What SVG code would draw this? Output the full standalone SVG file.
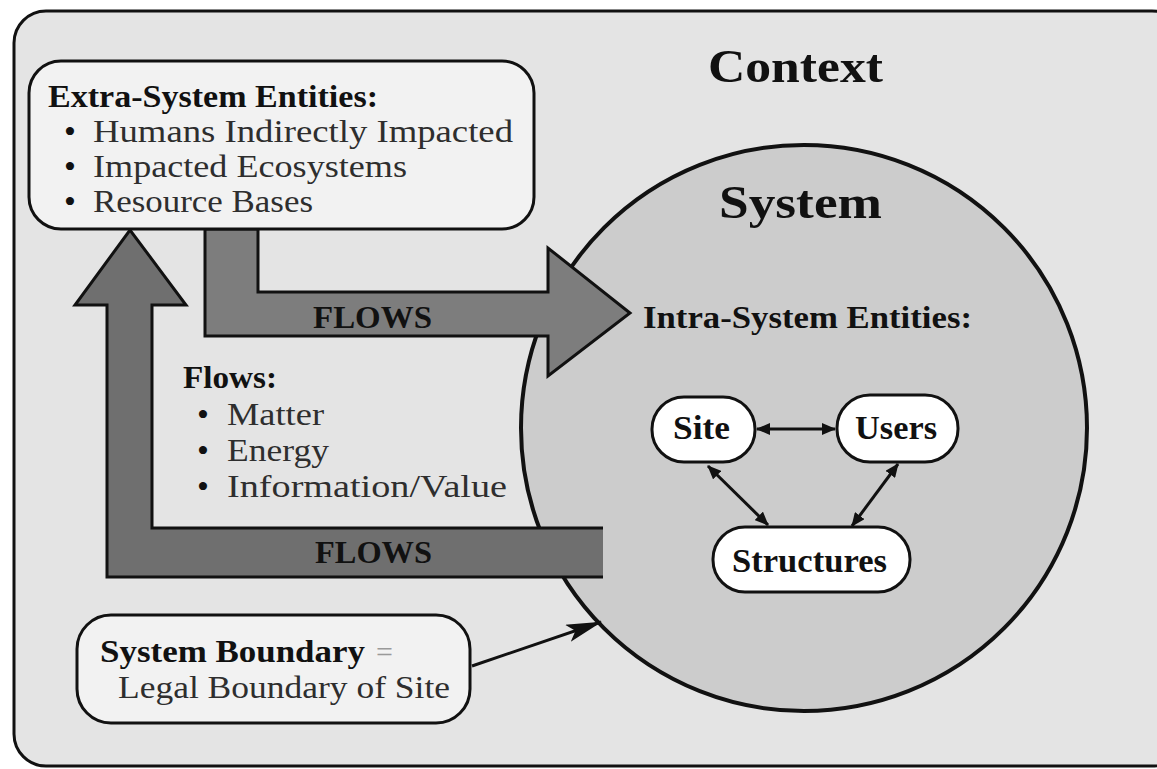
<svg xmlns="http://www.w3.org/2000/svg" width="1157" height="769" viewBox="0 0 1157 769">
<style>
  text { font-family: "Liberation Serif", "Times New Roman", serif; }
  .b { font-weight: bold; fill: #111; }
  .r { fill: #2e2e2e; }
  .dot { fill: #111; }
  .box { fill: #f2f2f2; stroke: #111; stroke-width: 3; }
  .pill { fill: #ffffff; stroke: #111; stroke-width: 3; }
  .edge { stroke: #111; stroke-width: 3; fill: none; }
</style>
<defs>
  <marker id="ah" viewBox="0 0 14 12" refX="13" refY="6" markerWidth="14" markerHeight="12" markerUnits="userSpaceOnUse" orient="auto-start-reverse">
    <path d="M0,0 L14,6 L0,12 z" fill="#111"/>
  </marker>
  <marker id="big" viewBox="0 0 36 18" refX="35" refY="9" markerWidth="36" markerHeight="18" markerUnits="userSpaceOnUse" orient="auto">
    <path d="M0,0 L36,9 L0,18 L8,9 z" fill="#111"/>
  </marker>
</defs>

<g id="context">
  <rect x="14" y="11" width="1170" height="755" rx="32" ry="32" fill="#e4e4e4" stroke="#111" stroke-width="3"/>
  <text class="b" x="708" y="82" font-size="46" textLength="175" lengthAdjust="spacingAndGlyphs">Context</text>
</g>

<g id="system">
  <circle cx="804" cy="428" r="283" fill="#cccccc" stroke="#111" stroke-width="4"/>
  <text class="b" x="719" y="218" font-size="47" textLength="163" lengthAdjust="spacingAndGlyphs">System</text>
  <text class="b" x="643" y="328" font-size="31" textLength="329" lengthAdjust="spacingAndGlyphs">Intra-System Entities:</text>
</g>

<g id="connectors">
  <g id="flow-in">
    <path d="M205,229 L258,229 L258,292 L548,292 L548,248 L630,313 L548,376 L548,336 L205,336 Z" fill="#7d7d7d" stroke="#111" stroke-width="3" stroke-linejoin="miter"/>
    <text class="b" x="313" y="328" font-size="32" textLength="119" lengthAdjust="spacingAndGlyphs">FLOWS</text>
  </g>
  <g id="flow-out">
    <path d="M603,528 L152,528 L152,305 L186,305 L130,230 L75,305 L107,305 L107,577 L603,577 Z" fill="#6f6f6f"/>
    <path d="M603,528 L152,528 L152,305 L186,305 L130,230 L75,305 L107,305 L107,577 L603,577" fill="none" stroke="#111" stroke-width="3" stroke-linejoin="miter"/>
    <text class="b" x="315" y="563" font-size="32" textLength="117" lengthAdjust="spacingAndGlyphs">FLOWS</text>
  </g>
  <line class="edge" x1="757" y1="429" x2="835" y2="429" marker-start="url(#ah)" marker-end="url(#ah)"/>
  <line class="edge" x1="708" y1="466" x2="768" y2="525" marker-start="url(#ah)" marker-end="url(#ah)"/>
  <line class="edge" x1="898" y1="464" x2="852" y2="526" marker-start="url(#ah)" marker-end="url(#ah)"/>
  <line class="edge" x1="472" y1="666" x2="601" y2="622" marker-end="url(#big)"/>
</g>

<g id="extra-system">
  <rect class="box" x="29" y="61" width="505" height="168" rx="32" ry="32"/>
  <text class="b" x="48" y="107" font-size="31" textLength="330" lengthAdjust="spacingAndGlyphs">Extra-System Entities:</text>
  <text class="dot" x="64" y="143" font-size="34">•</text>
  <text class="r" x="93" y="142" font-size="32" textLength="420" lengthAdjust="spacingAndGlyphs">Humans Indirectly Impacted</text>
  <text class="dot" x="64" y="178" font-size="34">•</text>
  <text class="r" x="93" y="177" font-size="32" textLength="314" lengthAdjust="spacingAndGlyphs">Impacted Ecosystems</text>
  <text class="dot" x="64" y="213" font-size="34">•</text>
  <text class="r" x="93" y="212" font-size="32" textLength="220" lengthAdjust="spacingAndGlyphs">Resource Bases</text>
</g>

<g id="flows-list">
  <text class="b" x="183" y="388" font-size="31" textLength="94" lengthAdjust="spacingAndGlyphs">Flows:</text>
  <text class="dot" x="197" y="426" font-size="34">•</text>
  <text class="r" x="227" y="425" font-size="32" textLength="97" lengthAdjust="spacingAndGlyphs">Matter</text>
  <text class="dot" x="197" y="462" font-size="34">•</text>
  <text class="r" x="227" y="461" font-size="32" textLength="102" lengthAdjust="spacingAndGlyphs">Energy</text>
  <text class="dot" x="197" y="498" font-size="34">•</text>
  <text class="r" x="227" y="497" font-size="32" textLength="280" lengthAdjust="spacingAndGlyphs">Information/Value</text>
</g>

<g id="site">
  <rect class="pill" x="652" y="397" width="103" height="65" rx="32" ry="32"/>
  <text class="b" x="673" y="439" font-size="33" textLength="57" lengthAdjust="spacingAndGlyphs">Site</text>
</g>
<g id="users">
  <rect class="pill" x="837" y="395" width="121" height="67" rx="33" ry="33"/>
  <text class="b" x="855" y="439" font-size="33" textLength="82" lengthAdjust="spacingAndGlyphs">Users</text>
</g>
<g id="structures">
  <rect class="pill" x="713" y="527" width="197" height="65" rx="32" ry="32"/>
  <text class="b" x="732" y="572" font-size="33" textLength="155" lengthAdjust="spacingAndGlyphs">Structures</text>
</g>

<g id="boundary-note">
  <rect class="box" x="77" y="615" width="393" height="108" rx="34" ry="34"/>
  <text class="b" x="100" y="662" font-size="31" textLength="265" lengthAdjust="spacingAndGlyphs">System Boundary</text>
  <text x="376" y="662" font-size="30" fill="#9a9a9a">=</text>
  <text class="r" x="118" y="698" font-size="32" textLength="332" lengthAdjust="spacingAndGlyphs">Legal Boundary of Site</text>
</g>
</svg>
